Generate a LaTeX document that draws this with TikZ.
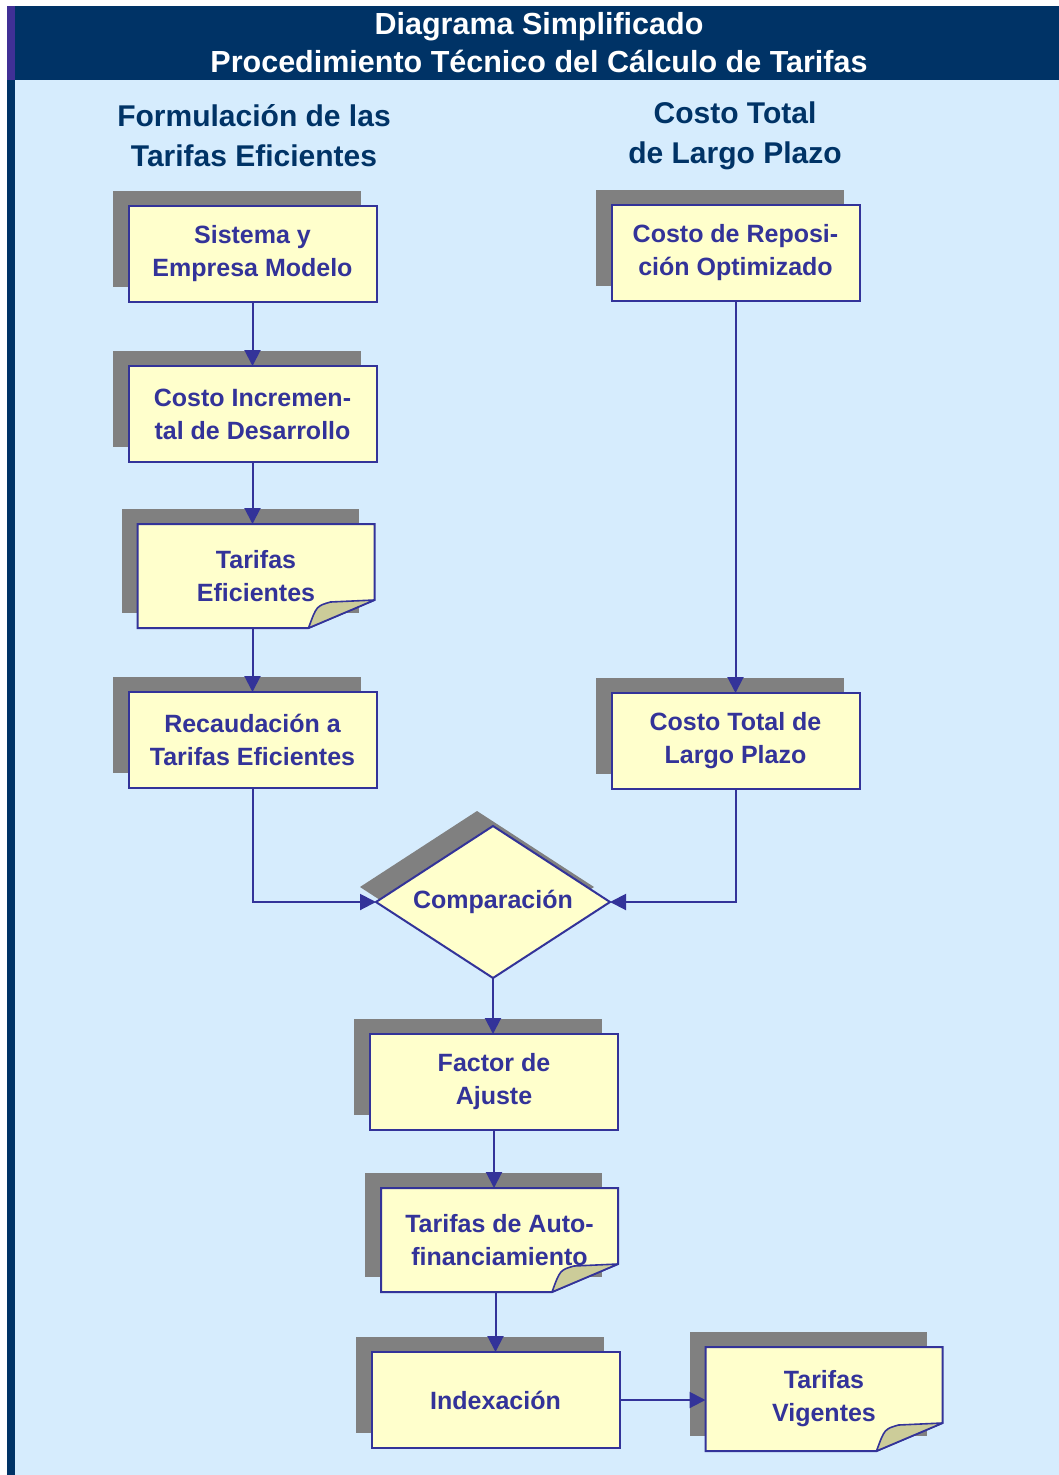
\documentclass[tikz,border=0pt]{standalone}
\usepackage{fontspec}
\setmainfont{Liberation Sans}
\usetikzlibrary{shapes,arrows.meta,positioning,shadows,backgrounds,calc}
\definecolor{navy}{RGB}{0,51,102}
\definecolor{barpurple}{RGB}{64,48,150}
\definecolor{paper}{RGB}{214,236,253}
\definecolor{boxfill}{RGB}{255,255,204}
\definecolor{ink}{RGB}{51,51,153}
\definecolor{shadowgray}{RGB}{128,128,128}
\definecolor{foldfill}{RGB}{204,204,153}

% folded sheet behind a doc node
\newcommand{\docsheet}[1]{%
  \fill[shadowgray] ([shift={(-16pt,15pt)}]#1.south west) rectangle ([shift={(-16pt,15pt)}]#1.north east);
  \filldraw[draw=ink, line width=2pt, fill=boxfill] (#1.north west) -- (#1.north east)
    -- ([yshift=28pt]#1.south east) -- ([xshift=-66pt]#1.south east) -- (#1.south west) -- cycle;
  \filldraw[draw=ink, line width=1.6pt, fill=foldfill, line join=round] ([xshift=-66pt]#1.south east)
    .. controls ([shift={(-58pt,22pt)}]#1.south east) .. ([shift={(-44pt,26pt)}]#1.south east)
    -- ([yshift=28pt]#1.south east) -- cycle;
}

\begin{document}
\begin{tikzpicture}[x=1pt, y=-1pt,
    boxtext/.style={text=ink, align=center, font=\fontsize{25}{33}\selectfont\bfseries, inner sep=0pt, outer sep=0pt},
    box/.style={boxtext, rectangle, draw=ink, line width=2pt, fill=boxfill, minimum width=248pt, minimum height=96pt,
        drop shadow={shadow xshift=-16pt, shadow yshift=15pt, fill=shadowgray, opacity=1}},
    doc/.style={boxtext, rectangle, minimum width=237pt, minimum height=104pt},
    decision/.style={boxtext, diamond, aspect=1.54, draw=ink, line width=2pt, fill=boxfill, minimum width=234pt, minimum height=152pt,
        drop shadow={shadow xshift=-16pt, shadow yshift=15pt, fill=shadowgray, opacity=1}},
    head/.style={text=navy, align=center, font=\fontsize{30}{40}\selectfont\bfseries},
    title/.style={text=white, align=center, font=\fontsize{30.5}{38}\selectfont\bfseries},
    arrow/.style={-{Triangle[length=16pt,width=16pt]}, draw=ink, line width=2pt}
]
    \useasboundingbox (0,0) rectangle (1059,1475);
    \begin{scope}[on background layer]
        \fill[paper] (15,80) rectangle (1059,1475);
        \fill[navy] (15,6) rectangle (1059,80);
        \fill[navy] (7,80) rectangle (15,1475);
        \fill[barpurple] (7,6) rectangle (15,80);
    \end{scope}

    \node[title] (title) at (539,43) {Diagrama Simplificado\\Procedimiento Técnico del Cálculo de Tarifas};
    \node[head] (headleft) at (254,136) {Formulación de las\\Tarifas Eficientes};
    \node[head] (headright) at (735,136) {Costo Total\\de Largo Plazo};

    % left column
    \node[box] (sistema) at (252.5,254) {Sistema y\\Empresa Modelo};
    \node[box, below=64pt of sistema] (incremental) {Costo Incremen-\\tal de Desarrollo};
    \node[doc, below=62pt of incremental, xshift=3.5pt] (eficientes) {Tarifas\\Eficientes};
    \node[box, below=64pt of eficientes, xshift=-3.5pt] (recaudacion) {Recaudación a\\Tarifas Eficientes};

    % right column
    \node[box] (reposicion) at (735.5,253) {Costo de Reposi-\\ción Optimizado};
    \node[box, below=392pt of reposicion] (largoplazo) {Costo Total de\\Largo Plazo};

    % lower part
    \node[decision] (comparacion) at (493,902) {Comparación};
    \node[box, below=56pt of comparacion, xshift=1pt] (ajuste) {Factor de\\Ajuste};
    \node[doc, below=58pt of ajuste, xshift=5.5pt] (autofin) {Tarifas de Auto-\\financiamiento};
    \node[box, below=60pt of autofin, xshift=-4pt] (indexacion) {Indexación};
    \node[doc, right=86pt of indexacion, yshift=1pt] (vigentes) {Tarifas\\Vigentes};

    \begin{scope}[on background layer]
        \docsheet{eficientes}
        \docsheet{autofin}
        \docsheet{vigentes}
    \end{scope}

    \draw[arrow] (sistema) -- (incremental);
    \draw[arrow] (incremental.south) -- (incremental.south |- eficientes.north);
    \draw[arrow] (eficientes.south -| recaudacion.north) -- (recaudacion.north);
    \draw[arrow] (reposicion) -- (largoplazo);
    \draw[arrow] (recaudacion.south) |- (comparacion.west);
    \draw[arrow] (largoplazo.south) |- (comparacion.east);
    \draw[arrow] (comparacion.south) -- (comparacion.south |- ajuste.north);
    \draw[arrow] (ajuste.south) -- (ajuste.south |- autofin.north);
    \draw[arrow] (autofin.south -| indexacion.north) -- (indexacion.north);
    \draw[arrow] (indexacion.east) -- (indexacion.east -| vigentes.west);
\end{tikzpicture}
\end{document}
